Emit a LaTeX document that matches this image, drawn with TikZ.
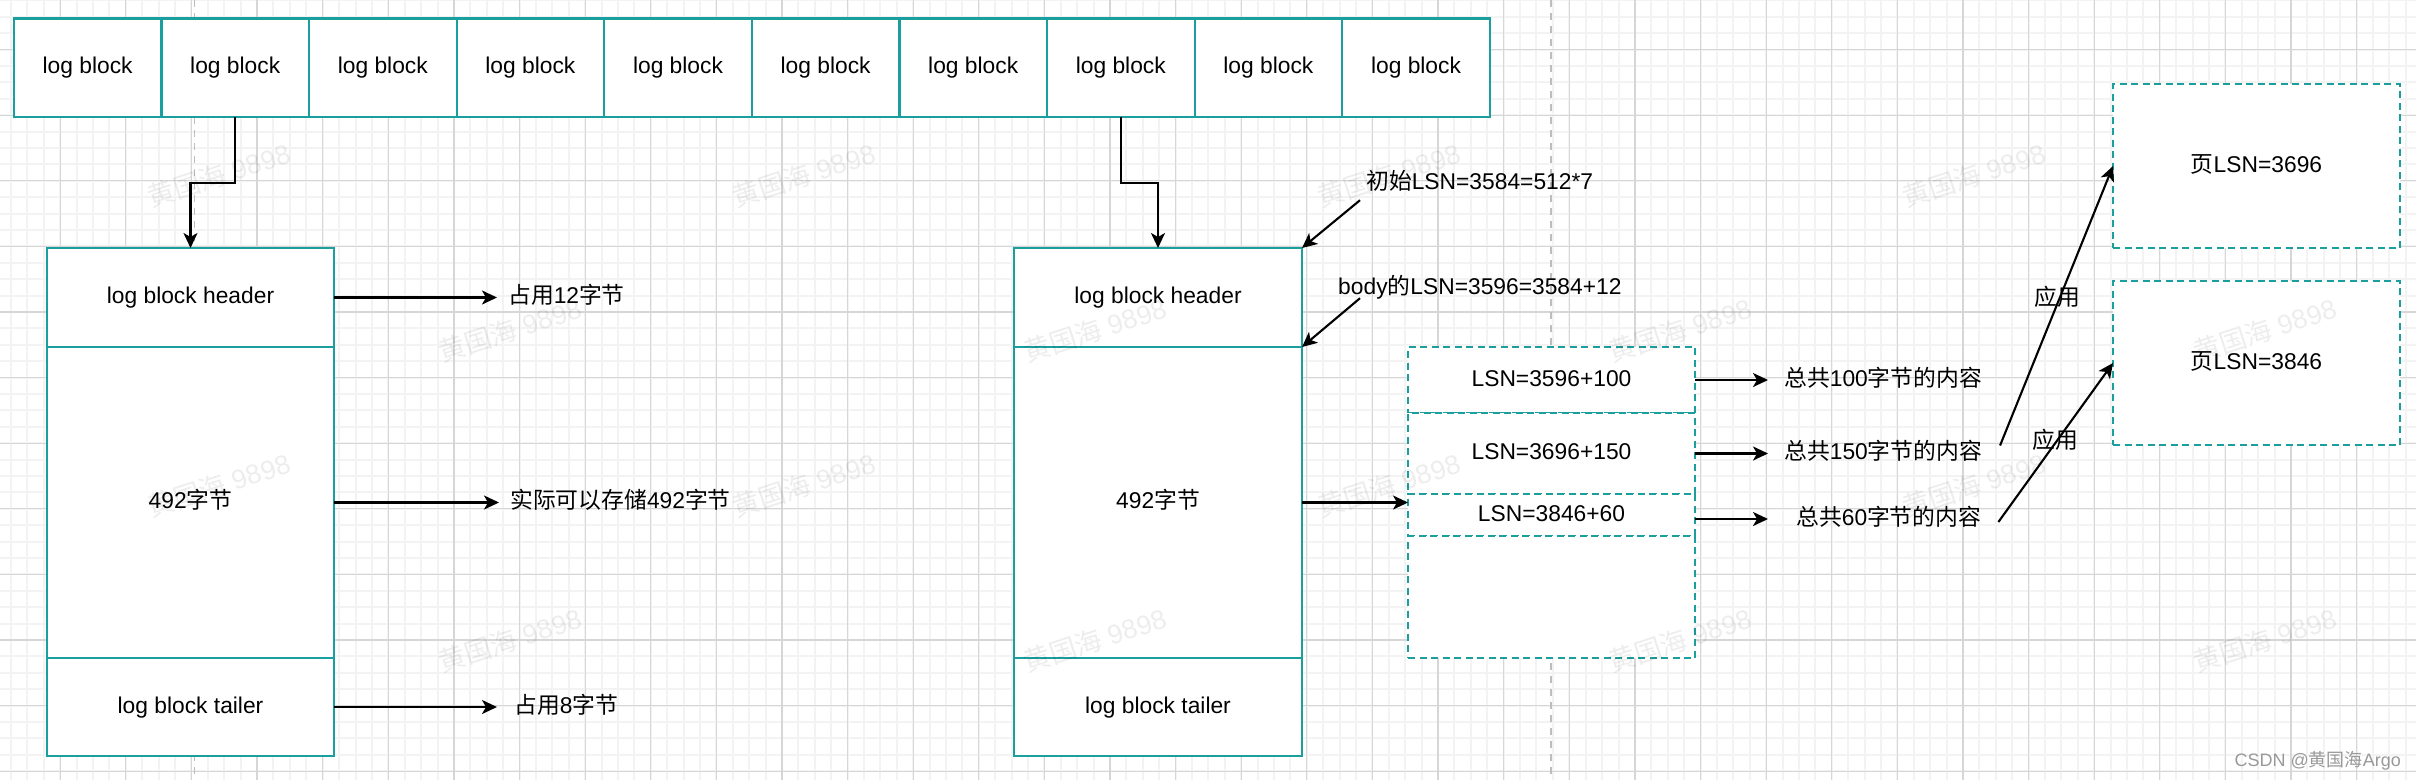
\documentclass[tikz,border=0pt]{standalone}
\usepackage{fontspec}
\setmainfont{Liberation Sans}
\newfontfamily\cjk{Noto Sans CJK SC}
\usetikzlibrary{arrows.meta,calc}
\definecolor{teal1}{HTML}{1A9E9E}
\definecolor{gridminor}{HTML}{F3F3F3}
\definecolor{gridmajor}{HTML}{D6D6D6}
\definecolor{guide}{HTML}{BDBDBD}
\newcommand{\zh}[1]{{\cjk #1}}
\begin{document}
\begin{tikzpicture}[x=1pt,y=-1pt,
  every node/.style={font=\fontsize{22.8}{27}\selectfont},
  box/.style={draw=teal1, line width=2.2pt, fill=white, inner sep=0pt, outer sep=0pt, text height=17pt, text depth=5pt},
  dbox/.style={box, dash pattern=on 7pt off 4.5pt},
  lbl/.style={inner xsep=11pt, inner ysep=0pt, anchor=west, text height=17pt, text depth=5pt},
  note/.style={inner sep=0pt, anchor=west, text height=17pt, text depth=5pt},
  arr/.style={-{Stealth[length=15pt,width=14pt,inset=4pt]}, line width=2.1pt, black},
  wmk/.style={rotate=18, text=black, text opacity=0.07, font=\fontsize{27}{30}\selectfont},
]
\useasboundingbox (0,0) rectangle (2416,780);
% background grid
\begin{scope}
\clip (0,0) rectangle (2416,780);
\foreach \i in {-4,...,144} \draw[gridminor, line width=2pt] ({60.25+\i*16.4025},0) -- ++(0,780);
\foreach \j in {-4,...,46} \draw[gridminor, line width=2pt] (0,{49.5+\j*16.4}) -- ++(2416,0);
\foreach \i in {-1,...,36} \draw[gridmajor, line width=1.2pt] ({60.25+\i*65.61},0) -- ++(0,780);
\foreach \j in {-1,...,12} \draw[gridmajor, line width=1.2pt] (0,{49.5+\j*65.6}) -- ++(2416,0);
\draw[guide, line width=1.5pt, dash pattern=on 7pt off 6pt] (194.5,0) -- (194.5,780);
\draw[guide, line width=1.5pt, dash pattern=on 7pt off 6pt] (1551,0) -- (1551,780);
\end{scope}

% top row of log blocks
\foreach \i in {1,...,10}
  \node[box, minimum width=147.6pt, minimum height=98.5pt] (b\i) at ({13.8+147.6*(\i-0.5)},67.75) {log block};

% left block
\node[box, minimum width=287pt, minimum height=99pt] (lh) at (190.5,297.5) {log block header};
\node[box, minimum width=287pt, minimum height=311pt] (lb) at (190.5,502.5) {492\zh{字节}};
\node[box, minimum width=287pt, minimum height=98pt] (lt) at (190.5,707) {log block tailer};

% right block
\node[box, minimum width=288pt, minimum height=99pt] (rh) at (1158,297.5) {log block header};
\node[box, minimum width=288pt, minimum height=311pt] (rb) at (1158,502.5) {492\zh{字节}};
\node[box, minimum width=288pt, minimum height=98pt] (rt) at (1158,707) {log block tailer};

% dashed body contents
\node[dbox, minimum width=287pt, minimum height=66pt] (s1) at (1551.5,380) {LSN=3596+100};
\node[dbox, minimum width=287pt, minimum height=81pt] (s2) at (1551.5,453.5) {LSN=3696+150};
\node[dbox, minimum width=287pt, minimum height=42pt] (s3) at (1551.5,515) {LSN=3846+60};
\node[dbox, minimum width=287pt, minimum height=122pt] (s4) at (1551.5,597) {};

% pages
\node[dbox, minimum width=287pt, minimum height=164pt] (p1) at (2256.5,166) {\zh{页}LSN=3696};
\node[dbox, minimum width=287pt, minimum height=164pt] (p2) at (2256.5,363) {\zh{页}LSN=3846};

% left labels
\node[lbl] (t1) at (497,297.5) {\zh{占用}12\zh{字节}};
\node[lbl] (t2) at (499,502.5) {\zh{实际可以存储}492\zh{字节}};
\node[lbl, inner xsep=17pt] (t3) at (497,707) {\zh{占用}8\zh{字节}};

% right labels
\node[lbl, inner xsep=16pt] (r1) at (1768,380) {\zh{总共}100\zh{字节的内容}};
\node[lbl, inner xsep=16pt] (r2) at (1768,453.5) {\zh{总共}150\zh{字节的内容}};
\node[lbl, inner xsep=28pt] (r3) at (1768,519) {\zh{总共}60\zh{字节的内容}};

% notes
\node[note] (a1) at (1366,183) {\zh{初始}LSN=3584=512*7};
\node[note] (a2) at (1338,288) {body\zh{的}LSN=3596=3584+12};
\node (u1) at (2057,297) {\zh{应用}};
\node (u2) at (2055,440) {\zh{应用}};

% connectors
\coordinate (j1) at (0,183);
\draw[arr] (b2.south) |- (lh.north |- j1) -- (lh.north);
\draw[arr] (b8.south) |- (rh.north |- j1) -- (rh.north);
\draw[arr] (lh.east) -- (t1.west);
\draw[arr] (lb.east) -- (t2.west);
\draw[arr] (lt.east) -- (t3.west);
\draw[arr] (rb.east) -- (rb.east -| s3.west);
\draw[arr] (s1.east) -- (r1.west);
\draw[arr] (s2.east) -- (r2.west);
\draw[arr] (s3.east |- r3.west) -- (r3.west);
\draw[arr] ([shift={(-6,6)}]a1.south west) -- (rh.north east);
\draw[arr] ([shift={(22,-1)}]a2.south west) -- (rh.south east);
\draw[arr] ([shift={(2,-8)}]r2.east) -- (p1.west);
\draw[arr] ([shift={(-11,3)}]r3.east) -- (p2.west);

% watermarks
\foreach \y in {330,640}
  \foreach \x in {510,1095,1680,2265}
    \node[wmk] at (\x,\y) {\zh{黄国海} 9898};
\foreach \y in {175,485}
  \foreach \x in {219,804,1389,1974}
    \node[wmk] at (\x,\y) {\zh{黄国海} 9898};
\node[text=gray!80, font=\fontsize{18}{22}\selectfont, anchor=east, inner sep=0pt] (wm) at (2401,761) {CSDN @\zh{黄国海}Argo};
\end{tikzpicture}
\end{document}
